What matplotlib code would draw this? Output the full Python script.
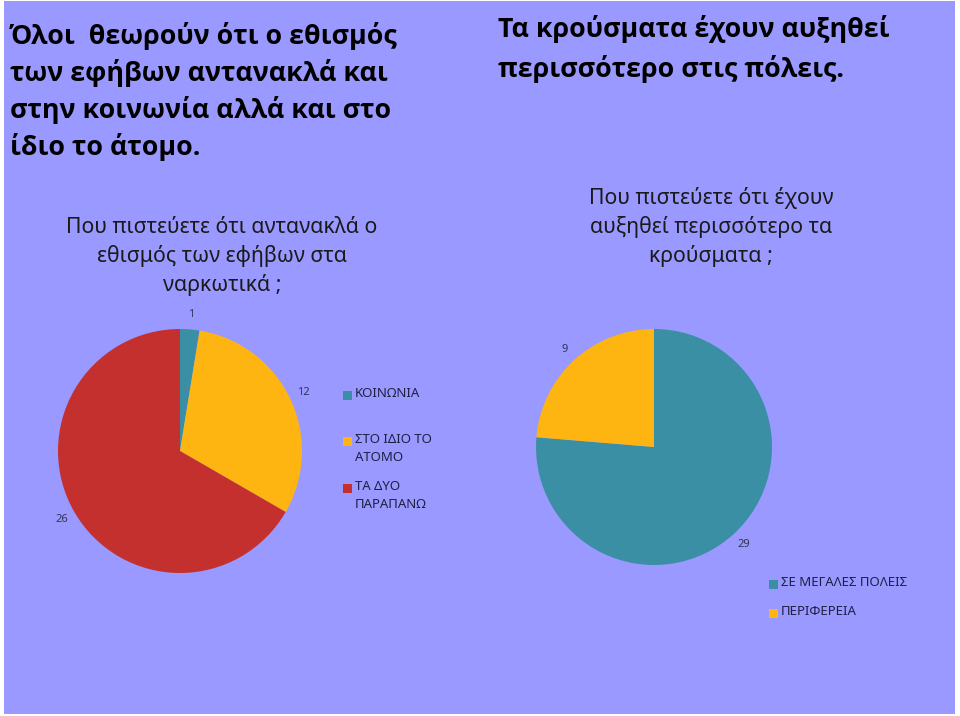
import matplotlib
matplotlib.use('Agg')
import matplotlib.pyplot as plt
from matplotlib.patches import Rectangle

# data
pie1_labels = ['ΚΟΙΝΩΝΙΑ', 'ΣΤΟ ΙΔΙΟ ΤΟ\nΑΤΟΜΟ', 'ΤΑ ΔΥΟ\nΠΑΡΑΠΑΝΩ']
pie1_values = [1, 12, 26]
pie2_labels = ['ΣΕ ΜΕΓΑΛΕΣ ΠΟΛΕΙΣ', 'ΠΕΡΙΦΕΡΕΙΑ']
pie2_values = [29, 9]

heading1 = 'Όλοι  θεωρούν ότι ο εθισμός\nτων εφήβων αντανακλά και\nστην κοινωνία αλλά και στο\nίδιο το άτομο.'
heading2 = 'Τα κρούσματα έχουν αυξηθεί\nπερισσότερο στις πόλεις.'
sub1 = 'Που πιστεύετε ότι αντανακλά ο\nεθισμός των εφήβων στα\nναρκωτικά ;'
sub2 = 'Που πιστεύετε ότι έχουν\nαυξηθεί περισσότερο τα\nκρούσματα ;'

TEAL = '#3b8fa5'
YELLOW = '#ffb511'
RED = '#c3302e'
BG = '#9999ff'
W, H = 960, 716

plt.rcParams['font.family'] = ['Noto Sans', 'DejaVu Sans']

fig = plt.figure(figsize=(W / 100, H / 100), dpi=100, facecolor='white')


def fx(px):
    return px / W


def fy(py):
    return 1 - py / H


# slide background (behind everything)
fig.patches.append(Rectangle((fx(4), fy(714)), fx(951), (714 - 1) / H,
                             transform=fig.transFigure, facecolor=BG,
                             edgecolor='none', zorder=-5))

# headings
fig.text(fx(10), fy(22), heading1, ha='left', va='top', fontsize=19.3,
         fontweight='bold', family=['Open Sans', 'DejaVu Sans'],
         color='black', linespacing=1.41)
fig.text(fx(498), fy(15), heading2, ha='left', va='top', fontsize=19.3,
         fontweight='bold', family=['Open Sans', 'DejaVu Sans'],
         color='black', linespacing=1.54)

# chart titles
fig.text(fx(222), fy(217), sub1, ha='center', va='top', fontsize=15.3,
         color='#1a1a1a', linespacing=1.4)
fig.text(fx(711), fy(187), sub2, ha='center', va='top', fontsize=15.3,
         color='#1a1a1a', linespacing=1.4)


def draw_pie(cx, cy, r, values, colors):
    ax = fig.add_axes([fx(cx - r), fy(cy + r), 2 * r / W, 2 * r / H])
    wedges, texts = ax.pie(values, colors=colors, startangle=90,
                           counterclock=False, labels=[str(v) for v in values],
                           labeldistance=1.12,
                           wedgeprops=dict(linewidth=0))
    for t in texts:
        t.set_ha('center')
        t.set_va('center')
        t.set_fontsize(8)
        t.set_color('#333355')
        t.set_clip_on(False)
    ax.set_xlim(-1, 1)
    ax.set_ylim(-1, 1)
    ax.set_aspect('equal')
    ax.axis('off')
    return ax


draw_pie(180, 451, 122, pie1_values, [TEAL, YELLOW, RED])
draw_pie(654, 447, 118, pie2_values, [TEAL, YELLOW])


def draw_legend(x, ys, labels, colors):
    for y, lab, c in zip(ys, labels, colors):
        fig.patches.append(Rectangle((fx(x), fy(y + 5)), fx(9), 9 / H,
                                     transform=fig.transFigure, facecolor=c,
                                     edgecolor='none'))
        fig.text(fx(x + 12), fy(y - 8), lab, ha='left', va='top',
                 fontsize=9.5, color='#1f1f44', linespacing=1.5)


draw_legend(343, [395, 441, 488], pie1_labels, [TEAL, YELLOW, RED])
draw_legend(769, [584, 613], pie2_labels, [TEAL, YELLOW])

fig.savefig('out.png', dpi=100, facecolor='white')
